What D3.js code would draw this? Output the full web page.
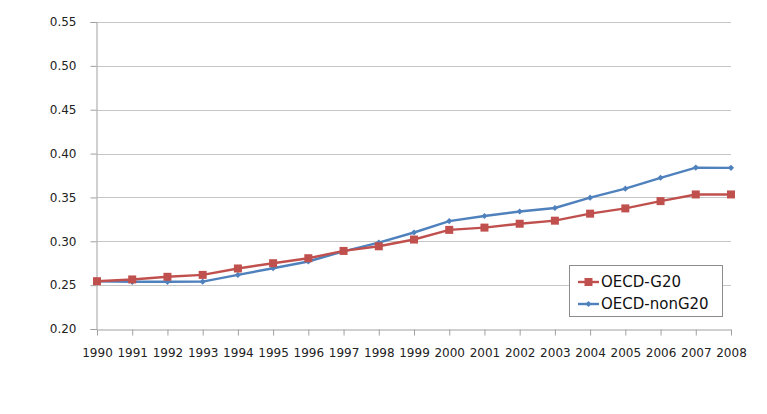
<!DOCTYPE html>
<html><head><meta charset="utf-8">
<script src="https://cdn.jsdelivr.net/npm/d3@7"></script>
<style>body{margin:0;background:#fff}svg{display:block}</style>
</head><body>
<svg id="c" width="767" height="414"></svg>
<script>
const years = ["1990","1991","1992","1993","1994","1995","1996","1997","1998","1999","2000","2001","2002","2003","2004","2005","2006","2007","2008"];
const g20 = [0.2545,0.2565,0.2595,0.2617,0.269,0.275,0.2807,0.289,0.2943,0.302,0.313,0.3156,0.320,0.3235,0.3315,0.3375,0.3458,0.3534,0.3534];
const nonG20 = [0.2545,0.2538,0.2538,0.254,0.2617,0.2693,0.277,0.2886,0.2985,0.310,0.323,0.3288,0.334,0.338,0.3497,0.360,0.3724,0.384,0.3837];
const yTicks = [0.20,0.25,0.30,0.35,0.40,0.45,0.50,0.55];
const seriesNames = ["OECD-G20","OECD-nonG20"];

const svg = d3.select("#c");
const font = "DejaVu Sans, sans-serif";
const x = d3.scalePoint().domain(years).range([97, 731]);
const y = d3.scaleLinear().domain([0.20, 0.55]).range([329, 22]);

// gridlines
svg.append("g").selectAll("line").data(yTicks.slice(1)).join("line")
  .attr("x1", 97).attr("x2", 731)
  .attr("y1", d => Math.round(y(d)) + 0.5).attr("y2", d => Math.round(y(d)) + 0.5)
  .attr("stroke", "#c6c6c6").attr("stroke-width", 1);

// y axis
const ya = svg.append("g").attr("transform", "translate(96.5,0)")
  .call(d3.axisLeft(y).tickValues(yTicks).tickFormat(d3.format(".2f")).tickSize(6).tickPadding(14));
ya.select(".domain").attr("stroke", "#a0a0a0");
ya.selectAll(".tick line").attr("stroke", "#a0a0a0");
ya.selectAll("text").attr("x", -20).attr("text-anchor", "end")
  .attr("font-family", font).attr("font-size", 12).attr("fill", "#222");

// x axis
const xa = svg.append("g").attr("transform", "translate(0,329.5)")
  .call(d3.axisBottom(x).tickSize(6).tickPadding(13).tickSizeOuter(0));
xa.select(".domain").attr("stroke", "#a0a0a0");
xa.selectAll(".tick line").attr("stroke", "#a0a0a0");
xa.selectAll("text").attr("font-family", font).attr("font-size", 12).attr("fill", "#222");

const line = d3.line().x((d, i) => x(years[i])).y(d => y(d));
const red = "#C0504D", blue = "#4F81BD";

// blue series
svg.append("path").datum(nonG20).attr("d", line).attr("fill", "none").attr("stroke", blue).attr("stroke-width", 2.4);
svg.append("g").selectAll("path").data(nonG20).join("path")
  .attr("d", d3.symbol(d3.symbolDiamond2, 24)())
  .attr("transform", (d, i) => `translate(${x(years[i])},${y(d)})`)
  .attr("fill", blue);

// red series
svg.append("path").datum(g20).attr("d", line).attr("fill", "none").attr("stroke", red).attr("stroke-width", 2.4);
svg.append("g").selectAll("rect").data(g20).join("rect")
  .attr("x", (d, i) => x(years[i]) - 4).attr("y", d => y(d) - 4)
  .attr("width", 8).attr("height", 8).attr("fill", red);

// legend
const lg = svg.append("g");
lg.append("rect").attr("x", 569.5).attr("y", 265.5).attr("width", 153).attr("height", 51)
  .attr("fill", "#fff").attr("stroke", "#8c8c8c");
const cols = [red, blue];
seriesNames.forEach((n, i) => {
  const cy = 282 + i * 22;
  lg.append("line").attr("x1", 578).attr("x2", 599).attr("y1", cy).attr("y2", cy)
    .attr("stroke", cols[i]).attr("stroke-width", 2.4);
  if (i === 0) lg.append("rect").attr("x", 584.5).attr("y", cy - 4).attr("width", 8).attr("height", 8).attr("fill", red);
  else lg.append("path").attr("d", d3.symbol(d3.symbolDiamond2, 24)()).attr("transform", `translate(588.5,${cy})`).attr("fill", blue);
  lg.append("text").attr("x", 601).attr("y", cy).attr("dy", "0.36em")
    .attr("font-family", font).attr("font-size", 15).attr("fill", "#111").text(n);
});
</script>
</body></html>
